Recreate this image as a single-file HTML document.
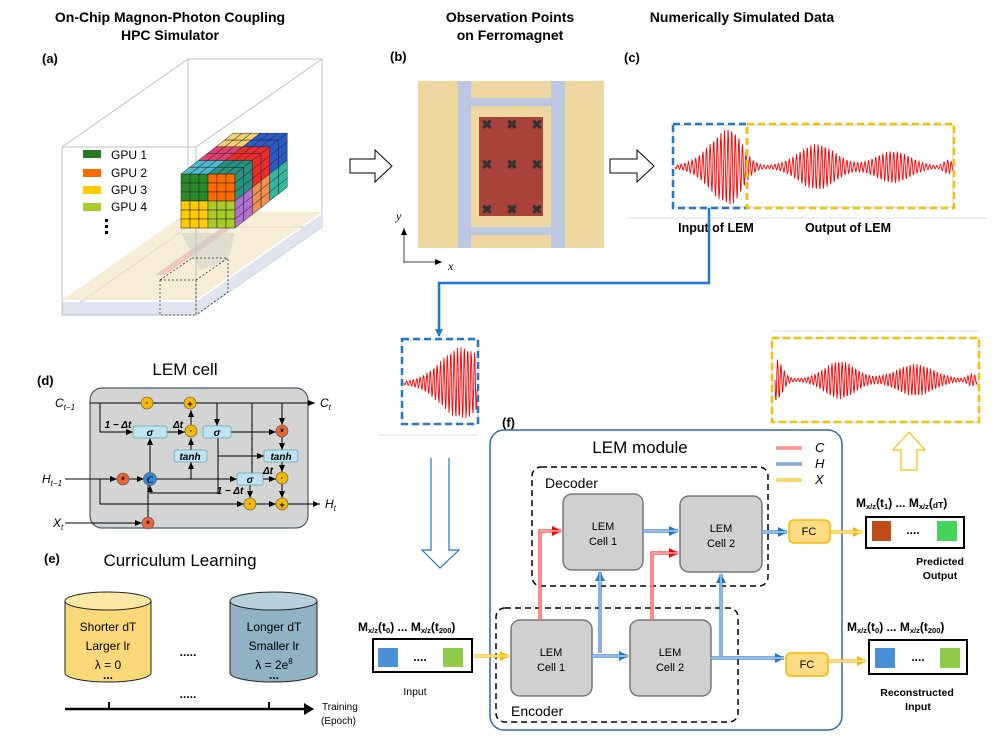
<!DOCTYPE html>
<html><head><meta charset="utf-8"><style>
body{margin:0;background:#fff}
svg{display:block}
text{font-family:"Liberation Sans",sans-serif}
.b{font-weight:bold}
.it{font-family:"Liberation Serif",serif;font-style:italic}
</style></head><body>
<svg id="s" width="997" height="736" viewBox="0 0 997 736" xmlns="http://www.w3.org/2000/svg">
<defs>
<marker id="ak" markerWidth="8" markerHeight="8" refX="7" refY="4" orient="auto" markerUnits="userSpaceOnUse"><path d="M0,1 L7,4 L0,7z" fill="#000"/></marker>
<marker id="ab" markerWidth="10" markerHeight="10" refX="9" refY="5" orient="auto" markerUnits="userSpaceOnUse"><path d="M0,0 L10,5 L0,10z" fill="#1f78c8"/></marker>
<marker id="ar" markerWidth="10" markerHeight="10" refX="9" refY="5" orient="auto" markerUnits="userSpaceOnUse"><path d="M0,0 L10,5 L0,10z" fill="#f00"/></marker>
<marker id="ao" markerWidth="10" markerHeight="10" refX="9" refY="5" orient="auto" markerUnits="userSpaceOnUse"><path d="M0,0 L10,5 L0,10z" fill="#f5b800"/></marker>
<marker id="ab2" markerWidth="8" markerHeight="8" refX="7" refY="4" orient="auto" markerUnits="userSpaceOnUse"><path d="M0,0 L8,4 L0,8z" fill="#1f78c8"/></marker>
</defs>
<g font-size="14" text-anchor="middle" font-weight="bold">
<text x="170" y="22">On-Chip Magnon-Photon Coupling</text>
<text x="170" y="40">HPC Simulator</text>
<text x="510" y="22">Observation Points</text>
<text x="510" y="40">on Ferromagnet</text>
<text x="742" y="22">Numerically Simulated Data</text>
</g>
<g font-size="13" font-weight="bold">
<text x="42" y="63">(a)</text><text x="390" y="61">(b)</text><text x="624" y="62">(c)</text>
<text x="37" y="385">(d)</text><text x="44" y="563">(e)</text><text x="502" y="427">(f)</text>
</g>
<g stroke="#b8c2c4" stroke-width="1" fill="none">
<rect x="188" y="59" width="134" height="168"/>
<line x1="62" y1="147" x2="188" y2="59"/><line x1="196" y1="147" x2="322" y2="59"/>
<line x1="62" y1="315" x2="188" y2="227"/><line x1="196" y1="315" x2="322" y2="227"/>
</g>
<polygon points="62,300 196,300 322,212 188,212" fill="#f3e5c4" opacity="0.7"/>
<polygon points="62,302 196,302 196,315 62,315" fill="#dfe4ef"/>
<polygon points="196,302 322,214 322,227 196,315" fill="#dfe4ef"/>
<polygon points="155,275 240,215 250,215 165,275" fill="#e8b8b0" opacity="0.7"/>
<polygon points="181,233 235,233 228,260 200,270" fill="#ccc" opacity="0.5"/>
<rect x="62" y="147" width="134" height="168" fill="none" stroke="#b8c2c4"/>
<g stroke="#333" stroke-dasharray="2,2" fill="none" stroke-width="0.8">
<rect x="160" y="280" width="36" height="35"/><polyline points="196,280 228,258 228,292 196,315"/><line x1="160" y1="280" x2="192" y2="258"/><line x1="192" y1="258" x2="228" y2="258"/>
</g>
<g font-size="12">
<rect x="83" y="150" width="18" height="8" fill="#237a23"/><text x="111" y="159">GPU 1</text>
<rect x="83" y="169" width="18" height="8" fill="#ff6a00"/><text x="111" y="177">GPU 2</text>
<rect x="83" y="186" width="18" height="8" fill="#ffcc00"/><text x="111" y="194">GPU 3</text>
<rect x="83" y="203" width="18" height="8" fill="#a8cc2a"/><text x="111" y="211">GPU 4</text>
<rect x="105" y="219" width="3" height="3"/><rect x="105" y="225" width="3" height="3"/><rect x="105" y="231" width="3" height="3"/>
</g>
<g id="cube"></g>
<path d="M350,159 L375,159 L375,150 L392,166 L375,182 L375,173 L350,173z" fill="#fff" stroke="#000" stroke-width="1"/>
<path d="M610,159 L637,159 L637,150 L654,166 L637,182 L637,173 L610,173z" fill="#fff" stroke="#000" stroke-width="1"/>
<rect x="418" y="81" width="186" height="167" fill="#efd89f"/>
<rect x="458" y="81" width="13" height="167" fill="#bcc8e2"/>
<rect x="551" y="81" width="14" height="167" fill="#bcc8e2"/>
<rect x="471" y="98" width="80" height="8" fill="#bcc8e2"/>
<rect x="471" y="227" width="80" height="8" fill="#bcc8e2"/>
<rect x="479" y="117" width="64" height="99" fill="#a8433c"/>
<g id="xs" font-size="13" font-weight="bold" fill="#333" text-anchor="middle"></g>
<g stroke="#444" stroke-width="1"><line x1="404" y1="263" x2="404" y2="228" marker-end="url(#ak)"/><line x1="404" y1="262" x2="442" y2="262" marker-end="url(#ak)"/></g>
<text x="396" y="220" class="it" font-size="12">y</text><text x="448" y="270" class="it" font-size="12">x</text>
<rect x="673" y="125" width="280" height="82" fill="none" stroke="#ccc"/>
<path id="w1" fill="none" stroke="#f00" stroke-width="0.9"/>
<rect x="673" y="124" width="74" height="84" fill="none" stroke="#1f78c8" stroke-width="2.5" stroke-dasharray="7,4"/>
<rect x="747" y="124" width="207" height="84" fill="none" stroke="#f5c000" stroke-width="2.5" stroke-dasharray="7,4"/>
<line x1="627" y1="218" x2="987" y2="218" stroke="#ddd"/>
<text x="716" y="232" font-size="12.5" font-weight="bold" text-anchor="middle">Input of LEM</text>
<text x="848" y="232" font-size="12.5" font-weight="bold" text-anchor="middle">Output of LEM</text>
<polyline points="709,208 709,283 439,283 439,336" fill="none" stroke="#1f78c8" stroke-width="2.5" marker-end="url(#ab2)"/>
<rect x="402" y="340" width="76" height="84" fill="none" stroke="#ccc"/>
<path id="w2" fill="none" stroke="#f00" stroke-width="0.9"/>
<rect x="402" y="339" width="76" height="85" fill="none" stroke="#1f78c8" stroke-width="2.5" stroke-dasharray="7,4"/>
<line x1="378" y1="435" x2="478" y2="435" stroke="#ddd"/>
<line x1="772" y1="331" x2="979" y2="331" stroke="#ddd"/>
<rect x="772" y="338" width="207" height="84" fill="none" stroke="#ccc"/>
<path id="w3" fill="none" stroke="#f00" stroke-width="0.9"/>
<rect x="772" y="338" width="207" height="84" fill="none" stroke="#f5c000" stroke-width="2.5" stroke-dasharray="7,4"/>
<path d="M901,470 L901,450 L893,450 L909,432 L925,450 L917,450 L917,470z" fill="#fff" stroke="#f5c000" stroke-width="1.2"/>
<path d="M431,458 L431,550 L422,550 L440,568 L459,550 L449,550 L449,458" fill="#fff" stroke="#1f78c8" stroke-width="1.2"/>
<text x="185" y="375" font-size="17" text-anchor="middle">LEM cell</text>
<rect x="90" y="388" width="218" height="140" rx="12" fill="#d4d4d4" stroke="#4a5a6a" stroke-width="1.2"/>
<g stroke="#000" stroke-width="1" fill="none">
<line x1="90" y1="403" x2="315" y2="403" marker-end="url(#ak)"/>
<polyline points="100,403 100,432 133,432" marker-end="url(#ak)"/>
<line x1="167" y1="432" x2="185" y2="432" marker-end="url(#ak)"/>
<line x1="191" y1="425" x2="191" y2="410" marker-end="url(#ak)"/>
<line x1="191" y1="450" x2="191" y2="438" marker-end="url(#ak)"/>
<line x1="217" y1="403" x2="217" y2="426" marker-end="url(#ak)"/>
<line x1="252" y1="403" x2="252" y2="473" />
<line x1="282" y1="403" x2="282" y2="425" marker-end="url(#ak)"/>
<line x1="231" y1="432" x2="276" y2="432" marker-end="url(#ak)"/>
<line x1="282" y1="437" x2="282" y2="450" marker-end="url(#ak)"/>
<line x1="282" y1="462" x2="282" y2="472" marker-end="url(#ak)"/>
<line x1="282" y1="484" x2="282" y2="498" marker-end="url(#ak)"/>
<polyline points="218,438 218,456 264,456" marker-end="url(#ak)"/>
<line x1="65" y1="479" x2="117" y2="479" marker-end="url(#ak)"/>
<line x1="129" y1="479" x2="144" y2="479" marker-end="url(#ak)"/>
<line x1="150" y1="473" x2="150" y2="438" marker-end="url(#ak)"/>
<line x1="156" y1="479" x2="237" y2="479" marker-end="url(#ak)"/>
<line x1="191" y1="479" x2="191" y2="462" marker-end="url(#ak)"/>
<line x1="263" y1="479" x2="276" y2="479" marker-end="url(#ak)"/>
<polyline points="100,479 100,504 244,504" marker-end="url(#ak)"/>
<line x1="250" y1="485" x2="250" y2="498" marker-end="url(#ak)"/>
<line x1="256" y1="504" x2="276" y2="504" marker-end="url(#ak)"/>
<line x1="288" y1="504" x2="320" y2="504" marker-end="url(#ak)"/>
<polyline points="218,456 218,493 150,493 150,485" marker-end="url(#ak)"/>
<line x1="65" y1="523" x2="142" y2="523" marker-end="url(#ak)"/>
<line x1="148" y1="517" x2="148" y2="485"/>
</g>
<g fill="#bde3f5" stroke="#6aa" stroke-width="0.8">
<rect x="133" y="426" width="34" height="12" rx="2"/><rect x="203" y="426" width="28" height="12" rx="2"/>
<rect x="174" y="450" width="33" height="12" rx="2"/><rect x="264" y="450" width="34" height="12" rx="2"/>
<rect x="237" y="473" width="26" height="12" rx="2"/>
</g>
<g font-size="10" font-weight="bold" class="it" text-anchor="middle" font-family="Liberation Serif">
<text x="150" y="436">σ</text><text x="217" y="436">σ</text><text x="250" y="483">σ</text>
<text x="190" y="460">tanh</text><text x="281" y="460">tanh</text>
<text x="118" y="428">1 − Δt</text><text x="178" y="428">Δt</text><text x="268" y="474">Δt</text><text x="230" y="494">1 − Δt</text>
</g>
<g stroke="#555" stroke-width="0.6">
<circle cx="147" cy="403" r="6" fill="#f5b800"/><circle cx="190" cy="403" r="6" fill="#f5b800"/>
<circle cx="191" cy="431" r="6" fill="#f5b800"/><circle cx="282" cy="431" r="6" fill="#e8643c"/>
<circle cx="123" cy="479" r="6" fill="#e8643c"/><circle cx="150" cy="479" r="6.5" fill="#3a86d8"/>
<circle cx="282" cy="478" r="6" fill="#f5b800"/><circle cx="250" cy="504" r="6" fill="#f5b800"/>
<circle cx="282" cy="504" r="6" fill="#f5b800"/><circle cx="148" cy="523" r="6" fill="#e8643c"/>
</g>
<g font-size="9" text-anchor="middle" font-weight="bold">
<text x="147" y="406">·</text><text x="190" y="407">+</text><text x="191" y="434">·</text><text x="282" y="435">*</text>
<text x="123" y="483">*</text><text x="150" y="483" class="it">C</text><text x="282" y="481">·</text><text x="250" y="507">·</text><text x="282" y="508">+</text><text x="148" y="527">*</text>
</g>
<g class="it" font-size="12" font-family="Liberation Serif">
<text x="55" y="407">C<tspan font-size="8" dy="3">t−1</tspan></text><text x="320" y="407">C<tspan font-size="8" dy="3">t</tspan></text>
<text x="42" y="483">H<tspan font-size="8" dy="3">t−1</tspan></text><text x="325" y="508">H<tspan font-size="8" dy="3">t</tspan></text>
<text x="53" y="527">X<tspan font-size="8" dy="3">t</tspan></text>
</g>
<text x="180" y="566" font-size="17" text-anchor="middle">Curriculum Learning</text>
<path d="M65,601 L65,673 A43,9 0 0 0 151,673 L151,601" fill="#fbd97a" stroke="#222"/>
<ellipse cx="108" cy="601" rx="43" ry="9" fill="#fde8a6" stroke="#222"/>
<path d="M230,601 L230,673 A43.5,9 0 0 0 317,673 L317,601" fill="#8fb3c4" stroke="#222"/>
<ellipse cx="273.5" cy="601" rx="43.5" ry="9" fill="#b7d0db" stroke="#222"/>
<g font-size="12" text-anchor="middle">
<text x="108" y="631">Shorter dT</text><text x="108" y="650">Larger lr</text><text x="108" y="669">λ = 0</text><text x="108" y="679" font-weight="bold">...</text>
<text x="274" y="631">Longer dT</text><text x="274" y="650">Smaller lr</text><text x="274" y="669">λ = 2e<tspan font-size="8" dy="-5">8</tspan></text><text x="274" y="679" font-weight="bold">...</text>
<text x="188" y="656" font-weight="bold">.....</text><text x="188" y="698" font-weight="bold">.....</text>
</g>
<line x1="65" y1="709" x2="306" y2="709" stroke="#000" stroke-width="2.5"/>
<path d="M304,703 L314,709 L304,715z"/>
<line x1="109" y1="702" x2="109" y2="709" stroke="#000" stroke-width="2"/><line x1="269" y1="702" x2="269" y2="709" stroke="#000" stroke-width="2"/>
<text x="322" y="710" font-size="10">Training</text><text x="321" y="724" font-size="10">(Epoch)</text>
<g font-size="12" font-weight="bold">
<text x="358" y="631">M<tspan font-size="7.5" dy="2">x/z</tspan><tspan dy="-2">(t</tspan><tspan font-size="7.5" dy="2">0</tspan><tspan dy="-2">)  ...  M</tspan><tspan font-size="7.5" dy="2">x/z</tspan><tspan dy="-2">(t</tspan><tspan font-size="7.5" dy="2">200</tspan><tspan dy="-2">)</tspan></text>
<text x="847" y="631">M<tspan font-size="7.5" dy="2">x/z</tspan><tspan dy="-2">(t</tspan><tspan font-size="7.5" dy="2">0</tspan><tspan dy="-2">)  ...  M</tspan><tspan font-size="7.5" dy="2">x/z</tspan><tspan dy="-2">(t</tspan><tspan font-size="7.5" dy="2">200</tspan><tspan dy="-2">)</tspan></text>
<text x="856" y="507">M<tspan font-size="7.5" dy="2">x/z</tspan><tspan dy="-2">(t</tspan><tspan font-size="7.5" dy="2">1</tspan><tspan dy="-2">)  ...  M</tspan><tspan font-size="7.5" dy="2">x/z</tspan><tspan dy="-2">(</tspan><tspan font-size="8.5" dy="1">dT</tspan><tspan dy="-1">)</tspan></text>
</g>
<rect x="373" y="639" width="99" height="33" fill="#fff" stroke="#000" stroke-width="2"/>
<rect x="378" y="648" width="20" height="19" fill="#4a90d9"/><rect x="443" y="648" width="20" height="19" fill="#8fcc4a"/>
<text x="420" y="661" font-size="12" font-weight="bold" text-anchor="middle">....</text>
<text x="415" y="695" font-size="10.5" text-anchor="middle">Input</text>
<rect x="866" y="517" width="98" height="31" fill="#fff" stroke="#000" stroke-width="2"/>
<rect x="872" y="521" width="19" height="20" fill="#c04d18"/><rect x="937" y="521" width="20" height="20" fill="#45d45a"/>
<text x="913" y="534" font-size="12" font-weight="bold" text-anchor="middle">....</text>
<text x="940" y="565" font-size="10.5" font-weight="bold" text-anchor="middle">Predicted</text><text x="940" y="579" font-size="10.5" font-weight="bold" text-anchor="middle">Output</text>
<rect x="869" y="640" width="98" height="34" fill="#fff" stroke="#000" stroke-width="2"/>
<rect x="875" y="648" width="20" height="20" fill="#4a90d9"/><rect x="940" y="648" width="20" height="20" fill="#8fcc4a"/>
<text x="918" y="661" font-size="12" font-weight="bold" text-anchor="middle">....</text>
<text x="917" y="696" font-size="10.5" font-weight="bold" text-anchor="middle">Reconstructed</text><text x="918" y="710" font-size="10.5" font-weight="bold" text-anchor="middle">Input</text>
<rect x="490" y="430" width="352" height="300" rx="14" fill="none" stroke="#2a6aa8" stroke-width="1.5"/>
<text x="640" y="453" font-size="17" text-anchor="middle">LEM module</text>
<g stroke-width="1"><line x1="776" y1="448" x2="802" y2="448" stroke="#f55" stroke-width="3"/><line x1="776" y1="448" x2="802" y2="448" stroke="#fff" stroke-width="0.8"/>
<line x1="776" y1="464" x2="802" y2="464" stroke="#3a7ac8" stroke-width="3"/><line x1="776" y1="464" x2="802" y2="464" stroke="#fff" stroke-width="0.8"/>
<line x1="776" y1="480" x2="802" y2="480" stroke="#f5b800" stroke-width="3"/><line x1="776" y1="480" x2="802" y2="480" stroke="#fff" stroke-width="0.8"/></g>
<g class="it" font-size="13" font-family="Liberation Serif"><text x="815" y="452">C</text><text x="815" y="468">H</text><text x="815" y="484">X</text></g>
<rect x="532" y="467" width="236" height="119" rx="9" fill="none" stroke="#000" stroke-width="1.5" stroke-dasharray="6,4"/>
<rect x="496" y="608" width="242" height="114" rx="9" fill="none" stroke="#000" stroke-width="1.5" stroke-dasharray="6,4"/>
<text x="545" y="488" font-size="14">Decoder</text><text x="511" y="716" font-size="14">Encoder</text>
<g fill="#d0d0d0" stroke="#777" stroke-width="1.5">
<rect x="563" y="494" width="80" height="76" rx="9"/><rect x="680" y="496" width="82" height="76" rx="9"/>
<rect x="511" y="620" width="81" height="76" rx="9"/><rect x="630" y="620" width="81" height="76" rx="9"/>
</g>
<g font-size="11" text-anchor="middle">
<text x="603" y="530">LEM</text><text x="603" y="545">Cell 1</text><text x="721" y="532">LEM</text><text x="721" y="547">Cell 2</text>
<text x="551" y="656">LEM</text><text x="551" y="671">Cell 1</text><text x="670" y="656">LEM</text><text x="670" y="671">Cell 2</text>
</g>
<g id="conn" fill="none"></g>
<rect x="789" y="520" width="41" height="23" rx="5" fill="#fddc84" stroke="#f5b800" stroke-width="1.5"/>
<rect x="786" y="653" width="42" height="23" rx="5" fill="#fddc84" stroke="#f5b800" stroke-width="1.5"/>
<text x="809" y="535" font-size="11" text-anchor="middle">FC</text><text x="807" y="668" font-size="11" text-anchor="middle">FC</text>
</svg>
<script>
var NS="http://www.w3.org/2000/svg";
function el(p,t,a){var e=document.createElementNS(NS,t);for(var k in a)e.setAttribute(k,a[k]);p.appendChild(e);return e;}
var xs=document.getElementById('xs');
[487,512,537].forEach(function(x){[124,164,209].forEach(function(y){var t=el(xs,'text',{x:x,y:y+5});t.textContent='✖';});});
function g(x,c,w){return Math.exp(-Math.pow((x-c)/w,2));}
function wave(id,x0,x1,cy,env,per){var d='';for(var x=x0;x<=x1;x+=0.5){var y=cy+env(x)*Math.sin((x-x0)*2*Math.PI/per);d+=(d?'L':'M')+x.toFixed(1)+','+y.toFixed(1);}document.getElementById(id).setAttribute('d',d);}
wave('w1',675,953,167,function(x){var a=x<730?37*g(x,730,28):37*g(x,730,17);return a+22*g(x,817,26)+15*g(x,893,24)+6*g(x,948,6)+1;},3.6);
wave('w2',404,477,383,function(x){return 35*g(x,462,30)+1;},3.4);
wave('w3',775,977,380,function(x){return 20*g(x,776,9)+18*g(x,840,22)+15*g(x,915,26)+5*g(x,972,6)+1;},3.4);
var cb=document.getElementById('cube');
var fx=181,fy=174,cs=9,dx=8.7,dy=-6.8;
for(var r=0;r<6;r++)for(var c=0;c<6;c++){var col=r<3?(c<3?'#2a8a2a':'#ff6a00'):(c<3?'#ffcc00':'#a8cc2a');el(cb,'rect',{x:fx+c*cs,y:fy+r*cs,width:cs,height:cs,fill:col,stroke:'#222','stroke-width':0.5});}
for(var k=0;k<6;k++)for(var c=0;c<6;c++){var x=fx+c*cs+k*dx,y=fy+k*dy;var col=k<2?(c<3?'#4fb8d0':'#2a9080'):k<4?(c<3?'#e04070':'#ee2a2a'):(c<3?'#f0d070':'#2a5ac8');el(cb,'polygon',{points:[x,y,x+cs,y,x+cs+dx,y+dy,x+dx,y+dy].join(','),fill:col,stroke:'#222','stroke-width':0.5});}
for(var k=0;k<6;k++)for(var r=0;r<6;r++){var x=fx+6*cs+k*dx,y=fy+r*cs+k*dy;var col=r<3?(k<2?'#2a9080':k<4?'#ee2a2a':'#2a5ac8'):(k<2?'#b070d0':k<4?'#f09050':'#30b8a0');el(cb,'polygon',{points:[x,y,x+dx,y+dy,x+dx,y+dy+cs,x,y+cs].join(','),fill:col,stroke:'#222','stroke-width':0.5});}
var cn=document.getElementById('conn');
function dbl(pts,col,m){var p=pts.join(' ');el(cn,'polyline',{points:p,stroke:col,'stroke-width':3.2,'marker-end':'url(#'+m+')'});el(cn,'polyline',{points:p,stroke:'#fff','stroke-width':0.9});}
dbl([[540,620],[540,531],[561,531]],'#f33','ar');
dbl([[652,620],[652,553],[678,553]],'#f33','ar');
dbl([[643,531],[678,531]],'#2a7ac8','ab');
dbl([[600,653],[600,572]],'#2a7ac8','ab');
dbl([[592,656],[628,656]],'#2a7ac8','ab');
dbl([[721,656],[721,574]],'#2a7ac8','ab');
dbl([[711,658],[784,658]],'#2a7ac8','ab');
dbl([[762,532],[787,532]],'#2a7ac8','ab');
dbl([[474,656],[509,656]],'#f5b800','ao');
dbl([[830,532],[862,532]],'#f5b800','ao');
dbl([[828,661],[866,661]],'#f5b800','ao');
</script>
</body></html>
